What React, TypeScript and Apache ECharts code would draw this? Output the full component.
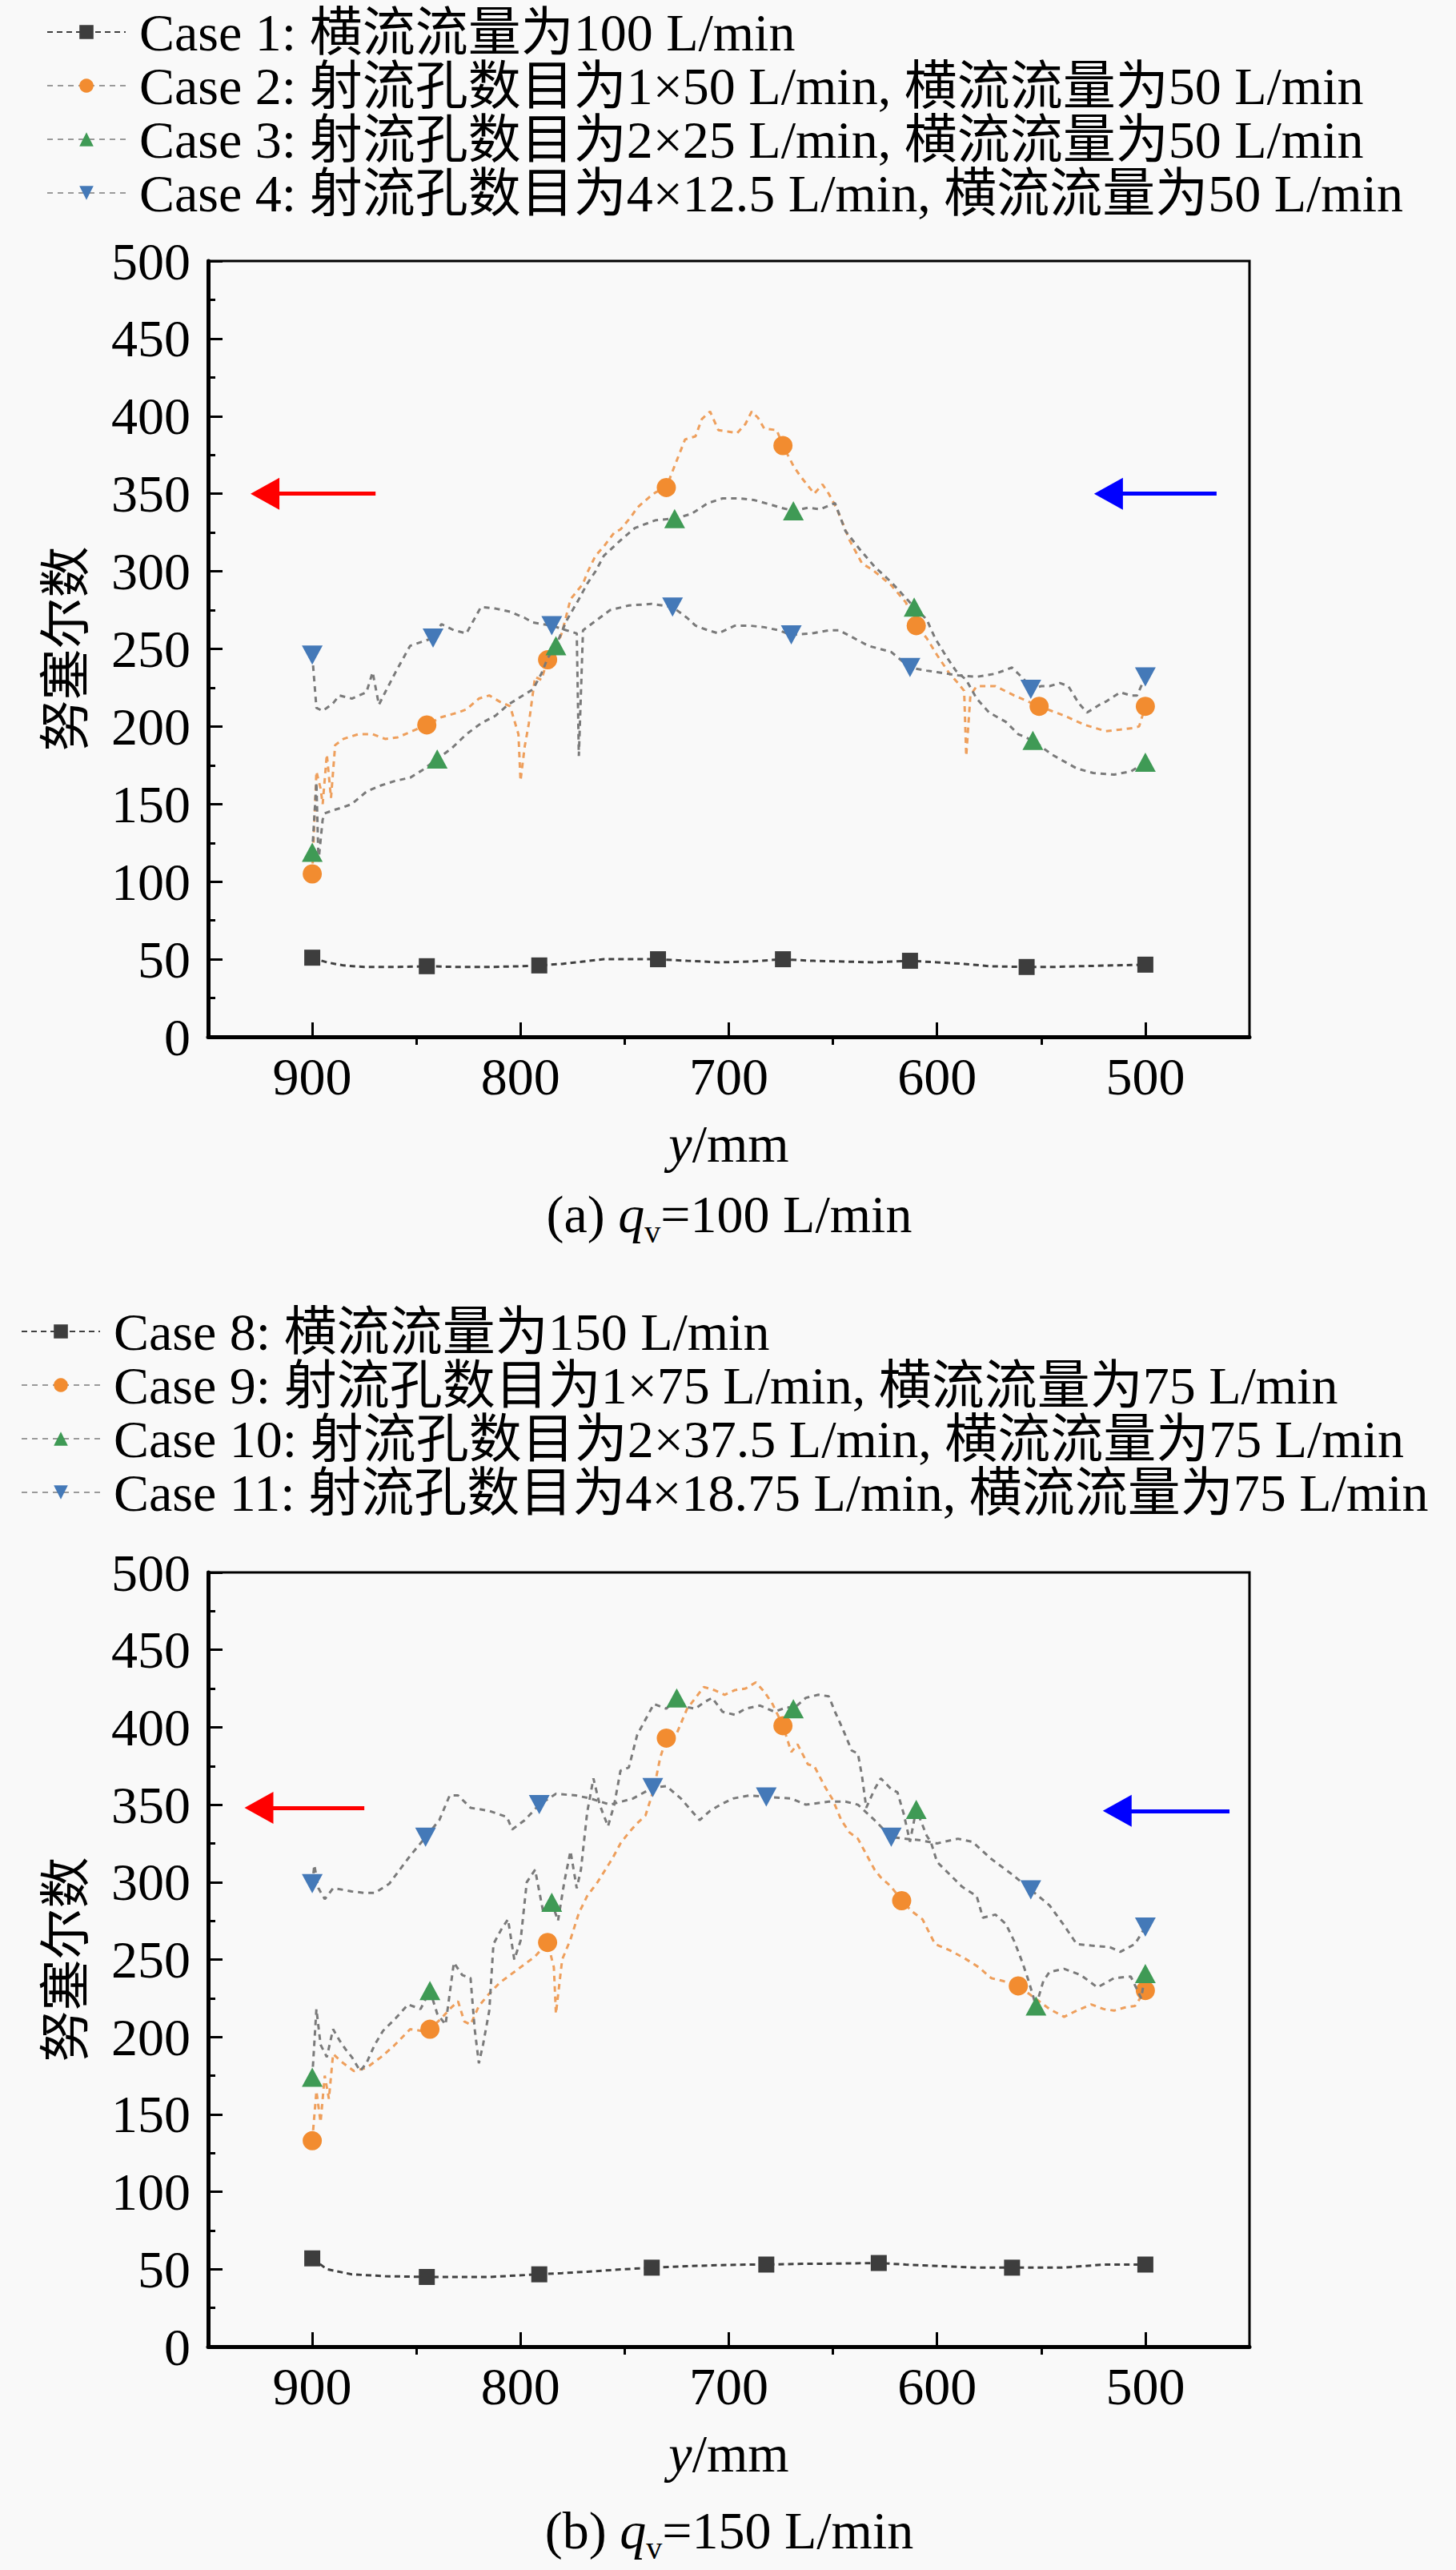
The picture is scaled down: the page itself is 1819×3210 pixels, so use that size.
import React, { useEffect, useRef } from "react";
import * as echarts from "echarts";

const FONT = "'Liberation Serif', 'Times New Roman', 'Noto Sans CJK SC', serif";

// ---------- chart (a) ----------
const NAMES_A = [
  "Case 1: 横流流量为100 L/min",
  "Case 2: 射流孔数目为1×50 L/min, 横流流量为50 L/min",
  "Case 3: 射流孔数目为2×25 L/min, 横流流量为50 L/min",
  "Case 4: 射流孔数目为4×12.5 L/min, 横流流量为50 L/min",
];
const CASE1 = [[900,51],[893,48],[885,46],[875,45],[860,45],[845,45.5],[830,45],[815,45],[800,45.5],[791,46],[780,47],[770,48.5],[760,50],[750,50],[744,50],[734,50],[720,49],[705,48],[690,48.5],[674,50],[660,49],[645,48.5],[630,48],[613,49],[600,48],[587,47],[575,45.5],[557,45],[545,45],[532,45.5],[516,46],[500,46.5]];
const CASE1_MARK = [900, 845, 791, 734, 674, 613, 557, 500];
const CASE2 = [[900,105],[898,171],[896,160],[895,150],[893,182],[891,154],[889,188],[885,192],[878,195],[871,195],[865,192],[859,193],[852,197],[845,201],[838,206],[830,209],[826,211],[820,218],[815,220],[810,216],[805,213],[801,195],[800,165],[798,187],[796,202],[793,232],[790,230],[787,243],[783,250],[780,261],[776,282],[770,292],[768,299],[764,310],[760,316],[755,325],[752,327],[747,335],[744,341],[738,348],[735,351],[730,354],[726,368],[721,385],[716,387],[713,398],[709,403],[705,391],[700,390],[696,389],[692,395],[689,403],[686,399],[683,392],[677,391],[674,381],[669,368],[666,362],[659,350],[655,356],[652,350],[648,340],[642,320],[636,305],[631,301],[622,291],[615,280],[610,265],[605,257],[600,246],[594,234],[590,228],[587,223],[586,181],[584,220],[581,226],[572,226],[563,220],[551,213],[545,210],[539,207],[529,201],[519,197],[512,198],[506,199],[503,200],[500,213]];
const CASE2_MARK = [900, 845, 787, 730, 674, 610, 551, 500];
const CASE3 = [[900,119],[898,164],[897,113],[895,140],[894,144],[890,146],[885,148],[881,150],[874,158],[867,162],[860,165],[853,167],[847,172],[840,179],[833,186],[826,195],[819,202],[812,207],[806,214],[800,219],[794,224],[790,234],[787,244],[783,252],[778,268],[772,282],[768,292],[764,300],[760,310],[752,320],[745,328],[735,333],[726,334],[718,337],[710,344],[703,347],[695,347],[688,346],[680,343],[675,341],[669,339],[662,341],[656,340],[649,344],[644,326],[637,314],[630,303],[622,293],[611,277],[605,269],[601,257],[596,246],[591,236],[586,230],[581,218],[575,209],[567,203],[561,195],[554,191],[545,182],[533,173],[525,170],[515,169],[507,171],[500,177]];
const CASE3_MARK = [900, 840, 783, 726, 669, 611, 554, 500];
const CASE4 = [[900,246],[898,212],[895,210],[890,215],[887,220],[881,218],[874,222],[871,235],[868,214],[865,222],[860,235],[853,252],[842,257],[838,266],[832,262],[826,260],[819,277],[812,276],[805,274],[798,270],[794,267],[785,265],[778,262],[773,260],[772,181],[770,262],[764,268],[757,275],[748,278],[737,279],[727,277],[720,270],[716,265],[710,262],[705,260],[697,265],[690,265],[683,264],[676,262],[670,259],[660,260],[652,262],[647,262],[640,257],[633,252],[622,248],[613,238],[605,236],[600,235],[590,233],[581,232],[572,234],[564,238],[558,230],[555,224],[550,226],[546,226],[541,228],[537,226],[532,215],[528,209],[522,214],[519,216],[512,222],[507,220],[504,220],[500,232]];
const CASE4_MARK = [900, 842, 785, 727, 670, 613, 555, 500];

// ---------- chart (b) ----------
const NAMES_B = [
  "Case 8: 横流流量为150 L/min",
  "Case 9: 射流孔数目为1×75 L/min, 横流流量为75 L/min",
  "Case 10: 射流孔数目为2×37.5 L/min, 横流流量为75 L/min",
  "Case 11: 射流孔数目为4×18.75 L/min, 横流流量为75 L/min",
];
const CASE8 = [[900,57],[893,50],[881,46.7],[865,45.5],[845,45],[830,45],[815,45],[791,46.7],[780,47.5],[768,48.4],[750,50],[737,51],[720,52],[705,52.6],[690,53],[682,53],[665,53.5],[650,53.6],[628,54],[615,53],[599,52],[580,51],[564,51],[550,51],[540,51],[530,52],[520,53],[510,53],[500,53]];
const CASE8_MARK = [900, 845, 791, 737, 682, 628, 564, 500];
const CASE9 = [[900,133],[898,165],[896,145],[894,175],[892,160],[890,189],[886,184],[880,178],[874,180],[867,187],[861,194],[853,205],[848,204],[843.5,205],[838,212],[834,218],[830,223],[827,210],[824,208],[820,220],[815,228],[810,235],[805,240],[799,246],[793,252],[787,261],[784,245],[783,215],[780,250],[776,263],[772,280],[768,291],[763,300],[756,315],[752,325],[748,332],[744,338],[740,343],[736,360],[733,380],[730,393],[725,396],[720,412],[716,419],[712,426],[707,424],[702,421],[697,424],[692,425],[687,429],[683,423],[679,415],[674,401],[670,384],[667,389],[662,376],[659,375],[654,362],[650,353],[646,340],[642,332],[638,328],[634,318],[630,308],[627,303],[622,297],[617,288],[612,281],[607,276],[601,260],[594,256],[587,251],[580,245],[574,238],[568,236],[561,233],[553,225],[546,218],[539,213],[533,217],[526,221],[520,218],[515,217],[510,219],[505,220],[500,230]];
const CASE9_MARK = [900, 843.5, 787, 730, 674, 617, 561, 500];
const CASE10 = [[900,174],[898,218],[896,195],[893,187],[890,205],[887,198],[884,192],[881,187],[877,178],[874,183],[870,195],[866,204],[860,212],[854,221],[848,218],[843.5,230],[840,215],[836,208],[832,248],[828,240],[824,238],[822,205],[820,183],[818,195],[815,217],[813,260],[809,270],[806,276],[803,250],[800,262],[797,300],[793,308],[789,280],[785,287],[782,275],[779,300],[776,320],[773,296],[771,308],[768,345],[765,367],[762,350],[758,336],[755,350],[752,372],[748,374],[744,395],[740,405],[736,415],[730,412],[725,419],[720,413],[716,412],[712,416],[708,419],[703,410],[697,408],[692,412],[685,414],[678,410],[672,413],[669,412],[663,419],[657,421],[652,420],[649,410],[645,398],[641,385],[638,383],[636,368],[634,348],[630,360],[627,367],[622,360],[619,358],[616,344],[613,326],[610,347],[605,330],[603,326],[600,313],[594,305],[588,297],[581,291],[578,277],[572,279],[567,273],[563,262],[559,248],[556,236],[552.5,220],[549,236],[546,242],[539,244],[531,240],[523,232],[515,238],[507,239],[502,225],[500,241]];
const CASE10_MARK = [900, 843.5, 785, 725, 669, 610, 552.5, 500];
const CASE11 = [[900,299],[899,311],[897,296],[894,289],[890,296],[885,295],[881,294],[875,293],[870,293],[863,299],[858,308],[853,317],[845.6,329],[839,340],[834,356],[830,356],[824,348],[815,346],[806.5,342],[804,334],[798,340],[791,350],[783,357],[773.5,356],[766.5,354],[757,350],[746,354],[736.5,361],[730,362],[723,354],[714,340],[709,346],[704,350],[698,354],[690,356],[682,355],[670,354],[663,350],[652,352],[644,352],[638,350],[630,340],[622,329],[615,328],[608,327],[600,325],[590,328],[583,326],[574,315],[564,305],[555,295],[546,285],[539,272],[533,260],[526,259],[517,258],[512,255],[505,260],[500,271]];
const CASE11_MARK = [900, 845.6, 791, 736.5, 682, 622, 555, 500];

// arrows: [tailX, tipX, yValue]
const ARROWS_A = [[869.6, 922.7, 350], [465.8, 517.7, 350]];
const ARROWS_B = [[875, 925.6, 348], [459.6, 513.5, 346]];

const X_LABELS = [500, 600, 700, 800, 900];
const X_MINOR = [550, 650, 750, 850];

const MARKER_COLORS = ["#3d3d3d", "#f28c30", "#3f9a55", "#4479b8"];
const LINE_COLORS = ["#404040", "#ee9f5c", "#7a7a7a", "#7a7a7a"];
const LEGEND_LINE_COLORS = ["#404040", "#9a9a9a", "#9a9a9a", "#9a9a9a"];
const SYMBOLS = ["rect", "circle", "triangle", "triangle"];
const SYMBOL_SIZES = [20, 24, [26, 24], [26, 24]];
const SYMBOL_ROT = [0, 0, 0, 180];

function makeSeries(idx: number, name: string, pts: number[][], marks: number[], axis: number) {
  return {
    type: "line",
    name,
    xAxisIndex: axis * 2,
    yAxisIndex: axis,
    data: pts.map((p) => (marks.includes(p[0]) ? { value: p } : { value: p, symbol: "none" })),
    symbol: SYMBOLS[idx],
    symbolSize: SYMBOL_SIZES[idx],
    symbolRotate: SYMBOL_ROT[idx],
    showSymbol: true,
    showAllSymbol: true,
    lineStyle: { color: LINE_COLORS[idx], width: 3, type: idx === 0 ? [7, 5] : [7, 6] },
    itemStyle: { color: MARKER_COLORS[idx] },
    z: 2 + idx,
  };
}

function arrowLines(arrows: number[][]) {
  const colors = ["#ff0000", "#0000ff"];
  return arrows.map((a, i) => [
    { coord: [a[0], a[2]], lineStyle: { color: colors[i], width: 5, type: "solid" }, symbol: "none" },
    { coord: [a[1], a[2]], symbol: "triangle" },
  ]);
}

const axisFont = { fontSize: 66, fontFamily: FONT, color: "#000" };

function xAxes(grid: number) {
  return [
    {
      type: "value",
      gridIndex: grid,
      min: 450,
      max: 950,
      interval: 50,
      inverse: true,
      name: "{i|y}/mm",
      nameLocation: "middle",
      nameGap: 100,
      nameTextStyle: { ...axisFont, rich: { i: { ...axisFont, fontStyle: "italic" } } },
      axisLine: { show: true, onZero: false, lineStyle: { color: "#000", width: 5 } },
      axisTick: { show: true, inside: true, length: 18, customValues: X_LABELS, lineStyle: { color: "#000", width: 3 } },
      axisLabel: { ...axisFont, margin: 16, customValues: X_LABELS },
      splitLine: { show: false },
    },
    {
      type: "value",
      gridIndex: grid,
      min: 450,
      max: 950,
      interval: 50,
      inverse: true,
      axisLine: { show: false },
      axisTick: { show: true, inside: true, length: 10, customValues: X_MINOR, lineStyle: { color: "#000", width: 3 } },
      axisLabel: { show: false },
      splitLine: { show: false },
    },
  ];
}

function yAxis(grid: number) {
  return {
    type: "value",
    gridIndex: grid,
    min: 0,
    max: 500,
    interval: 50,
    name: "努塞尔数",
    nameLocation: "middle",
    nameGap: 146,
    nameTextStyle: { fontSize: 64, fontFamily: FONT, color: "#000" },
    axisLine: { show: true, onZero: false, lineStyle: { color: "#000", width: 5 } },
    axisTick: { show: true, inside: true, length: 18, lineStyle: { color: "#000", width: 3 } },
    minorTick: { show: true, splitNumber: 2, length: 9, lineStyle: { color: "#000", width: 3 } },
    axisLabel: { ...axisFont, margin: 22 },
    splitLine: { show: false },
    minorSplitLine: { show: false },
  };
}

function legend(names: string[], left: number, top: number) {
  return {
    data: names.map((n, i) => ({ name: n, lineStyle: { color: LEGEND_LINE_COLORS[i] } })),
    orient: "vertical",
    left,
    top,
    itemWidth: 98,
    itemHeight: 22,
    itemGap: 1,
    selectedMode: false,
    textStyle: { fontSize: 66, lineHeight: 66, fontFamily: FONT, color: "#000", padding: [0, 0, 0, 12] },
  };
}

function caption(label: string, q: string, y: number) {
  return {
    type: "text",
    x: 911,
    y,
    style: {
      text: `${label} {i|q}{s|v}=${q} L/min`,
      fontSize: 66,
      lineHeight: 84,
      fontFamily: FONT,
      fill: "#000",
      align: "center",
      verticalAlign: "middle",
      rich: {
        i: { fontSize: 66, lineHeight: 84, fontStyle: "italic", fontFamily: FONT },
        s: { fontSize: 40, lineHeight: 40, verticalAlign: "bottom", fontFamily: FONT },
      },
    },
  };
}

export default function App() {
  const ref = useRef<HTMLDivElement>(null);
  useEffect(() => {
    if (!ref.current) return;
    const chart = echarts.init(ref.current, undefined, { renderer: "svg" });
    const seriesA = [
      makeSeries(0, NAMES_A[0], CASE1, CASE1_MARK, 0),
      makeSeries(1, NAMES_A[1], CASE2, CASE2_MARK, 0),
      makeSeries(2, NAMES_A[2], CASE3, CASE3_MARK, 0),
      makeSeries(3, NAMES_A[3], CASE4, CASE4_MARK, 0),
    ];
    const seriesB = [
      makeSeries(0, NAMES_B[0], CASE8, CASE8_MARK, 1),
      makeSeries(1, NAMES_B[1], CASE9, CASE9_MARK, 1),
      makeSeries(2, NAMES_B[2], CASE10, CASE10_MARK, 1),
      makeSeries(3, NAMES_B[3], CASE11, CASE11_MARK, 1),
    ];
    const ml = {
      silent: true,
      symbol: ["none", "triangle"],
      symbolSize: [40, 36],
      label: { show: false },
      emphasis: { disabled: true },
    };
    (seriesA[0] as any).markLine = { ...ml, data: arrowLines(ARROWS_A) };
    (seriesB[0] as any).markLine = { ...ml, data: arrowLines(ARROWS_B) };

    chart.setOption({
      animation: false,
      backgroundColor: "#f9f9f9",
      textStyle: { fontFamily: FONT },
      grid: [
        { left: 260, top: 326, width: 1301, height: 969, show: true, borderColor: "#000", borderWidth: 3, backgroundColor: "transparent" },
        { left: 260, top: 1964, width: 1301, height: 967, show: true, borderColor: "#000", borderWidth: 3, backgroundColor: "transparent" },
      ],
      legend: [legend(NAMES_A, 53, 2), legend(NAMES_B, 21, 1625)],
      xAxis: [...xAxes(0), ...xAxes(1)],
      yAxis: [yAxis(0), yAxis(1)],
      series: [...seriesA, ...seriesB],
      graphic: [caption("(a)", "100", 1516), caption("(b)", "150", 3160)],
    });
    return () => chart.dispose();
  }, []);
  return (
    <div
      ref={ref}
      style={{ position: "absolute", left: 0, top: 0, width: 1819, height: 3210 }}
    />
  );
}
